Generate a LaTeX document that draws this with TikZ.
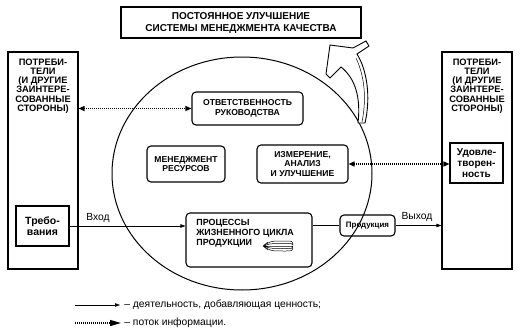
\documentclass[tikz,border=0pt]{standalone}
\usepackage{fontspec}
\setmainfont{Liberation Sans}
\usetikzlibrary{arrows.meta}
\begin{document}
\begin{tikzpicture}[x=1pt,y=-1pt,line width=0.8pt,
  every node/.style={inner sep=0pt},
  sqbox/.style={draw,line width=1.1pt,minimum width=#1},
  rbox/.style={draw,line width=1.1pt,rounded corners=4pt,align=center,font=\bfseries\fontsize{8.6}{9.8}\selectfont},
  captxt/.style={align=center,font=\bfseries\fontsize{9.3}{9.2}\selectfont},
  plaintxt/.style={font=\fontsize{10.3}{11}\selectfont},
  valueflow/.style={line width=0.6pt,-{Triangle[length=5pt,width=3.5pt]}},
  infoflow/.style={line width=1.3pt,dash pattern=on 1pt off 1pt,{Triangle[length=6pt,width=5pt]}-{Triangle[length=6pt,width=5pt]}}]
\useasboundingbox (0,0) rectangle (520,332);
% top box
\node[draw,line width=1.2pt,minimum width=240pt,minimum height=31pt] (improve) at (241,22.5) {};
\node[captxt,font=\bfseries\fontsize{10}{11.5}\selectfont] (improvelbl) at (241,23) {ПОСТОЯННОЕ УЛУЧШЕНИЕ\\СИСТЕМЫ МЕНЕДЖМЕНТА КАЧЕСТВА};
% customers
\node[sqbox=70pt,minimum height=217pt] (leftcons) at (43,160.5) {};
\node[captxt] (leftlbl) at (43,86) {ПОТРЕБИ-\\ТЕЛИ\\(И ДРУГИЕ\\ЗАИНТЕРЕ-\\СОВАННЫЕ\\СТОРОНЫ)};
\node[sqbox=70pt,minimum height=217pt] (rightcons) at (477,160.5) {};
\node[captxt] (rightlbl) at (477,86) {ПОТРЕБИ-\\ТЕЛИ\\(И ДРУГИЕ\\ЗАИНТЕРЕ-\\СОВАННЫЕ\\СТОРОНЫ)};
\node[sqbox=53pt,minimum height=40pt,captxt,font=\bfseries\fontsize{10.5}{11.5}\selectfont] (req) at (42.5,226) {Требо-\\вания};
\node[sqbox=53pt,minimum height=40pt,captxt,font=\bfseries\fontsize{10}{11}\selectfont] (satisf) at (476.5,163) {Удовле-\\творен-\\ность};
% the circle
\draw[line width=1pt] (242,173.5) ellipse [x radius=130, y radius=116.5];
\filldraw[fill=white,line width=0.9pt] (330,45) -- (353,48) -- (366,41) -- (369,46) -- (357,54)
  .. controls (367,70) and (371,97) .. (365,123) -- (358,123)
  .. controls (361,97) and (355,78) .. (341,67) -- (330,78) -- (326,74) -- cycle;
\draw[line width=0.5pt] (356,58) .. controls (364,75) and (367,97) .. (362,122);
% processes
\node[rbox,minimum width=111pt,minimum height=33pt] (respons) at (247.5,108.5) {ОТВЕТСТВЕННОСТЬ\\РУКОВОДСТВА};
\node[rbox,minimum width=78pt,minimum height=36pt] (resource) at (186,164) {МЕНЕДЖМЕНТ\\РЕСУРСОВ};
\node[rbox,minimum width=91pt,minimum height=38pt] (measure) at (302.5,164) {ИЗМЕРЕНИЕ,\\АНАЛИЗ\\И УЛУЧШЕНИЕ};
\node[rbox,minimum width=126pt,minimum height=54pt] (proc) at (249,240) {};
\node[anchor=west,align=left,font=\bfseries\fontsize{8.9}{10}\selectfont] (proclbl) at (196,233) {ПРОЦЕССЫ\\ЖИЗНЕННОГО ЦИКЛА\\ПРОДУКЦИИ};
\foreach \d in {-5,-2.5,0,2.5,5}
  \draw[line width=0.5pt] (264,246) .. controls (270,246+\d) .. (286,246+\d) .. controls (292,246+\d) .. (293,246+0.3*\d);
\draw[line width=0.5pt] (268,242) -- (263,246) -- (268,250);
\node[rbox,minimum width=55pt,minimum height=21pt,font=\bfseries\fontsize{7.9}{9}\selectfont] (prod) at (367.5,225.5) {Продукция};
% flows
\draw[infoflow] (leftcons.east |- respons.west) -- (respons.west);
\draw[infoflow] (measure.east) -- (measure.east -| satisf.west);
\draw[valueflow] (req.east) -- (req.east -| proc.west);
\draw[line width=0.6pt] (proc.east |- prod.west) -- (prod.west);
\draw[valueflow] (prod.east) -- (prod.east -| rightcons.west);
\node[plaintxt,anchor=south] (inlbl) at (98,223) {Вход};
\node[plaintxt,anchor=south] (outlbl) at (417,222) {Выход};
% legend
\coordinate (leg1a) at (75,305);
\coordinate (leg1b) at (120,305);
\coordinate (leg2a) at (75,323);
\coordinate (leg2b) at (121,323);
\draw[valueflow] (leg1a) -- (leg1b);
\draw[line width=1.3pt,dash pattern=on 1pt off 1pt,-{Triangle[length=11pt,width=6pt]}] (leg2a) -- (leg2b);
\node[plaintxt,anchor=west] (leg1lbl) at (124,305) {– деятельность, добавляющая ценность;};
\node[plaintxt,anchor=west] (leg2lbl) at (124,323) {– поток информации.};
\end{tikzpicture}
\end{document}
